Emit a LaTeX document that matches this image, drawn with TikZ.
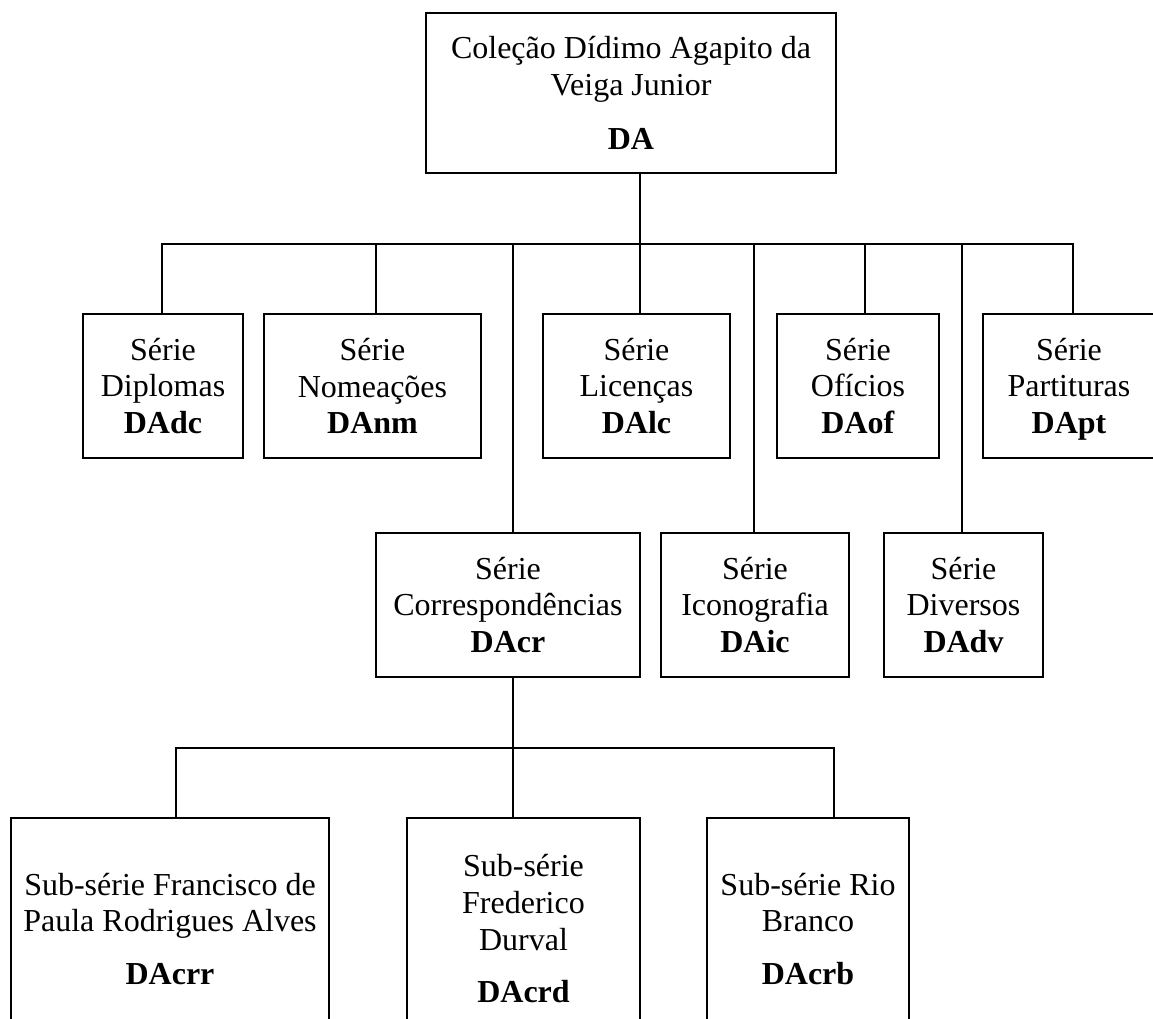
\documentclass[tikz,border=0pt]{standalone}
\usepackage{fontspec}
\setmainfont{Liberation Serif}
\tikzset{
  caixa/.style={draw, line width=1.4pt, align=center, inner sep=3pt,
    font=\fontsize{24}{27.5}\selectfont},
  liga/.style={line width=1.4pt}
}
\begin{document}
\begin{tikzpicture}[x=0.75pt,y=-0.75pt]
\useasboundingbox (0,0) rectangle (1153,1019);
\clip (0,0) rectangle (1153,1019);

\node[caixa, minimum width=307.5pt, minimum height=120pt] (DA) at (631,93)
  {Coleção Dídimo Agapito da\\Veiga Junior\\[13.5pt]\textbf{DA}};

\node[caixa, minimum width=120pt, minimum height=108pt] (dc) at (163,386) {Série\\Diplomas\\\textbf{DAdc}};
\node[caixa, minimum width=162.75pt, minimum height=108pt] (nm) at (372.5,386) {Série\\Nomeações\\\textbf{DAnm}};
\node[caixa, minimum width=140.25pt, minimum height=108pt] (lc) at (636.5,386) {Série\\Licenças\\\textbf{DAlc}};
\node[caixa, minimum width=121.5pt, minimum height=108pt] (of) at (858,386) {Série\\Ofícios\\\textbf{DAof}};
\node[caixa, minimum width=129pt, minimum height=108pt] (pt) at (1069,386) {Série\\Partituras\\\textbf{DA\smash{p}t}};

\node[caixa, minimum width=198pt, minimum height=108pt] (cr) at (508,605) {Série\\Correspondências\\\textbf{DAcr}};
\node[caixa, minimum width=141pt, minimum height=108pt] (ic) at (755,605) {Série\\Iconografia\\\textbf{DAic}};
\node[caixa, minimum width=119.25pt, minimum height=108pt] (dv) at (963.5,605) {Série\\Diversos\\\textbf{DAdv}};

\node[caixa, minimum width=238.5pt, minimum height=166.5pt] (rr) at (170,929)
  {Sub-série Francisco de\\Paula Rodrigues Alves\\[12pt]\textbf{DAcrr}};
\node[caixa, minimum width=174.75pt, minimum height=166.5pt] (rd) at (523.5,929)
  {Sub-série\\Frederico\\Durval\\[12pt]\textbf{DAcrd}};
\node[caixa, minimum width=151.5pt, minimum height=166.5pt] (rb) at (808,929)
  {Sub-série Rio\\Branco\\[12pt]\textbf{DAcrb}};

\foreach \no/\x in {dc/162,nm/376,cr/513,lc/640,ic/754,of/865,dv/962,pt/1073}
  \coordinate (d\no) at (\x,244);
\foreach \no/\x in {rr/176,rd/513,rb/834}
  \coordinate (d\no) at (\x,748);

\draw[liga] (ddc |- dc.north) -- (ddc) -- (dpt) -- (dpt |- pt.north);
\draw[liga] (dlc |- DA.south) -- (dlc |- lc.north);
\foreach \no in {nm,cr,ic,of,dv}
  \draw[liga] (d\no) -- (d\no |- \no.north);
\draw[liga] (drr |- rr.north) -- (drr) -- (drb) -- (drb |- rb.north);
\draw[liga] (drd |- cr.south) -- (drd |- rd.north);
\end{tikzpicture}
\end{document}
